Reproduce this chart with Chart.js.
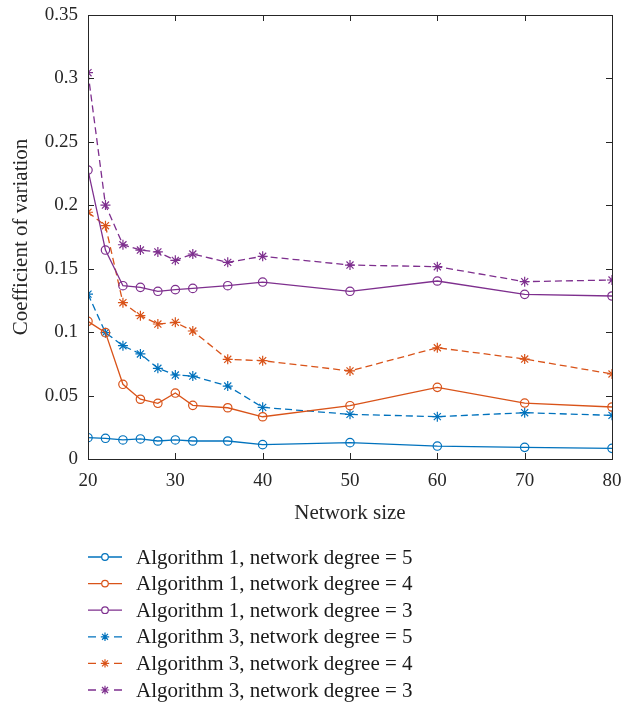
<!DOCTYPE html>
<html>
<head>
<meta charset="utf-8">
<script src="https://cdn.jsdelivr.net/npm/chart.js@4.4.1/dist/chart.umd.min.js"></script>
<style>
html,body{margin:0;padding:0;background:#fff;}
#wrap{width:630px;height:705px;position:relative;}
</style>
</head>
<body>
<div id="wrap"><canvas id="c" width="630" height="705"></canvas></div>
<script>
const networkSizes = [20, 22, 24, 26, 28, 30, 32, 36, 40, 50, 60, 70, 80];
const alg1Deg5 = [0.0168, 0.0163, 0.0150, 0.0158, 0.0142, 0.0150, 0.0142, 0.0142, 0.0113, 0.0129, 0.0102, 0.0092, 0.0084];
const alg1Deg4 = [0.1085, 0.0996, 0.0589, 0.0471, 0.0439, 0.0520, 0.0423, 0.0404, 0.0333, 0.0420, 0.0565, 0.0441, 0.0410];
const alg1Deg3 = [0.2278, 0.1647, 0.1366, 0.1353, 0.1322, 0.1335, 0.1345, 0.1366, 0.1395, 0.1322, 0.1403, 0.1298, 0.1285];
const alg3Deg5 = [0.1300, 0.0996, 0.0893, 0.0828, 0.0715, 0.0662, 0.0654, 0.0575, 0.0407, 0.0352, 0.0334, 0.0365, 0.0344];
const alg3Deg4 = [0.1945, 0.1839, 0.1232, 0.1130, 0.1064, 0.1077, 0.1009, 0.0786, 0.0775, 0.0694, 0.0877, 0.0788, 0.0670];
const alg3Deg3 = [0.3045, 0.2002, 0.1689, 0.1647, 0.1632, 0.1566, 0.1616, 0.1550, 0.1598, 0.1529, 0.1516, 0.1398, 0.1411];
const seriesLabels = [
  'Algorithm 1, network degree = 5',
  'Algorithm 1, network degree = 4',
  'Algorithm 1, network degree = 3',
  'Algorithm 3, network degree = 5',
  'Algorithm 3, network degree = 4',
  'Algorithm 3, network degree = 3'
];
const xTicks = [20, 30, 40, 50, 60, 70, 80];
const yTicks = [0, 0.05, 0.1, 0.15, 0.2, 0.25, 0.3, 0.35];

const BLUE = '#0072BD', ORANGE = '#D95319', PURPLE = '#7E2F8E';
const FONT = "'Liberation Serif', 'DejaVu Serif', serif";
const TXT = '#262626';

function mk(label, vals, color, star) {
  return {
    label: label,
    data: networkSizes.map((x, i) => ({x: x, y: vals[i]})),
    borderColor: color,
    backgroundColor: star ? color : 'rgba(255,255,255,0)',
    pointBorderColor: color,
    pointBackgroundColor: 'rgba(255,255,255,0)',
    borderWidth: 1.3,
    pointBorderWidth: 1.2,
    pointStyle: star ? 'star' : 'circle',
    pointRadius: star ? 5 : 4.2,
    borderDash: star ? [7, 4] : [],
    tension: 0,
    fill: false
  };
}

const datasets = [
  mk(seriesLabels[0], alg1Deg5, BLUE, false),
  mk(seriesLabels[1], alg1Deg4, ORANGE, false),
  mk(seriesLabels[2], alg1Deg3, PURPLE, false),
  mk(seriesLabels[3], alg3Deg5, BLUE, true),
  mk(seriesLabels[4], alg3Deg4, ORANGE, true),
  mk(seriesLabels[5], alg3Deg3, PURPLE, true)
];

const boxPlugin = {
  id: 'box',
  afterDatasetsDraw(chart) {
    const {ctx, chartArea: a, scales} = chart;
    ctx.save();
    ctx.strokeStyle = '#262626';
    ctx.lineWidth = 1;
    ctx.setLineDash([]);
    ctx.strokeRect(Math.round(a.left) + 0.5, Math.round(a.top) + 0.5, Math.round(a.right - a.left), Math.round(a.bottom - a.top));
    const L = 6;
    xTicks.forEach(v => {
      const px = Math.round(scales.x.getPixelForValue(v)) + 0.5;
      ctx.beginPath();
      ctx.moveTo(px, a.bottom); ctx.lineTo(px, a.bottom - L);
      ctx.moveTo(px, a.top); ctx.lineTo(px, a.top + L);
      ctx.stroke();
    });
    yTicks.forEach(v => {
      const py = Math.round(scales.y.getPixelForValue(v)) + 0.5;
      ctx.beginPath();
      ctx.moveTo(a.left, py); ctx.lineTo(a.left + L, py);
      ctx.moveTo(a.right, py); ctx.lineTo(a.right - L, py);
      ctx.stroke();
    });
    ctx.restore();
  }
};

const legendPlugin = {
  id: 'customLegend',
  afterDraw(chart) {
    const ctx = chart.ctx;
    const x0 = 88, y0 = 557, dy = 26.6;
    ctx.save();
    datasets.forEach((ds, i) => {
      const y = y0 + i * dy;
      ctx.strokeStyle = ds.borderColor;
      ctx.lineWidth = 1.3;
      ctx.setLineDash([]);
      ctx.beginPath();
      if (ds.borderDash.length) {
        ctx.moveTo(x0, y); ctx.lineTo(x0 + 8, y);
        ctx.moveTo(x0 + 26, y); ctx.lineTo(x0 + 34, y);
      } else {
        ctx.moveTo(x0, y); ctx.lineTo(x0 + 34, y);
      }
      ctx.stroke();
      ctx.lineWidth = 1.2;
      ctx.fillStyle = '#ffffff';
      Chart.helpers.drawPoint(ctx, {pointStyle: ds.pointStyle, radius: ds.pointStyle === 'star' ? 4.2 : 3.3, rotation: 0, borderWidth: 1.2}, x0 + 17, y);
      ctx.fillStyle = '#1a1a1a';
      ctx.font = '21px ' + FONT;
      ctx.textBaseline = 'middle';
      ctx.textAlign = 'left';
      ctx.fillText(ds.label, x0 + 48, y + 1);
    });
    ctx.restore();
  }
};

new Chart(document.getElementById('c'), {
  type: 'line',
  data: {datasets: datasets},
  options: {
    responsive: false,
    animation: false,
    devicePixelRatio: 1,
    layout: {padding: {left: 0, top: 15, right: 18, bottom: 176}},
    plugins: {legend: {display: false}, tooltip: {enabled: false}},
    scales: {
      x: {
        type: 'linear', min: 20, max: 80,
        afterBuildTicks(s) { s.ticks = xTicks.map(v => ({value: v})); },
        afterFit(s) { s.height = 70; s.paddingLeft = 0; s.paddingRight = 0; },
        grid: {display: false, drawTicks: false},
        border: {display: false},
        ticks: {color: TXT, font: {family: FONT, size: 19}, padding: 11, maxRotation: 0},
        title: {display: true, text: 'Network size', color: TXT, font: {family: FONT, size: 21}, padding: {top: 0, bottom: 3}}
      },
      y: {
        type: 'linear', min: 0, max: 0.35,
        afterBuildTicks(s) { s.ticks = yTicks.map(v => ({value: v})); },
        afterFit(s) { s.width = 88; s.paddingTop = 0; s.paddingBottom = 0; },
        grid: {display: false, drawTicks: false},
        border: {display: false},
        ticks: {color: TXT, font: {family: FONT, size: 19}, padding: 10, callback: v => String(+v.toFixed(2))},
        title: {display: true, text: 'Coefficient of variation', color: TXT, font: {family: FONT, size: 21}, padding: {top: 9, bottom: 0}}
      }
    }
  },
  plugins: [boxPlugin, legendPlugin]
});
</script>
</body>
</html>
